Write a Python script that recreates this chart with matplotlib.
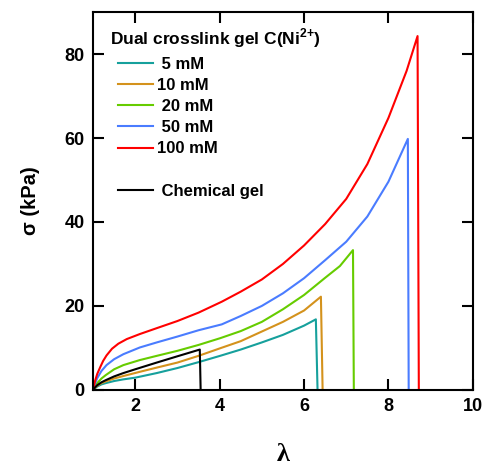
import numpy as np
import matplotlib.pyplot as plt

lam_5 = [1.0, 1.05, 1.1, 1.2, 1.3, 1.5, 1.72, 2.0, 2.51, 3.0, 3.5, 4.01, 4.5, 5.0, 5.5, 6.0, 6.28, 6.32]
sig_5 = [0.0, 0.4, 0.8, 1.3, 1.6, 2.1, 2.5, 2.9, 4.0, 5.2, 6.6, 8.1, 9.6, 11.3, 13.1, 15.3, 16.8, 0.0]

lam_10 = [1.0, 1.05, 1.1, 1.2, 1.3, 1.5, 1.72, 2.11, 2.51, 3.0, 3.5, 4.01, 4.5, 5.0, 5.5, 6.0, 6.40, 6.44]
sig_10 = [0.0, 0.5, 1.0, 1.6, 2.0, 2.7, 3.3, 4.3, 5.3, 6.5, 8.1, 9.9, 11.6, 13.9, 16.2, 18.9, 22.2, 0.0]

lam_20 = [1.0, 1.05, 1.1, 1.2, 1.3, 1.5, 1.72, 2.11, 2.51, 3.0, 3.5, 4.01, 4.5, 5.0, 5.5, 6.0, 6.5, 6.85, 7.16, 7.18]
sig_20 = [0.0, 0.9, 1.6, 2.7, 3.5, 4.9, 5.9, 7.1, 8.1, 9.3, 10.7, 12.3, 14.0, 16.2, 19.2, 22.6, 26.7, 29.5, 33.3, 0.0]

lam_50 = [1.0, 1.05, 1.1, 1.2, 1.32, 1.5, 1.72, 2.11, 2.51, 3.0, 3.5, 4.05, 4.5, 5.0, 5.5, 6.0, 6.5, 7.0, 7.5, 8.0, 8.46, 8.48]
sig_50 = [0.0, 1.6, 2.8, 4.5, 5.9, 7.3, 8.5, 10.1, 11.3, 12.7, 14.2, 15.6, 17.6, 20.0, 23.0, 26.6, 30.9, 35.3, 41.3, 49.6, 59.8, 0.0]

lam_100 = [1.0, 1.05, 1.1, 1.17, 1.24, 1.32, 1.45, 1.6, 1.8, 2.11, 2.51, 3.0, 3.5, 4.05, 4.5, 5.0, 5.5, 6.0, 6.5, 7.0, 7.5, 8.0, 8.43, 8.69, 8.72]
sig_100 = [0.0, 2.2, 3.8, 5.4, 6.9, 8.2, 9.8, 11.0, 12.1, 13.3, 14.7, 16.4, 18.4, 21.0, 23.4, 26.3, 30.0, 34.4, 39.5, 45.5, 53.8, 64.8, 76.0, 84.3, 0.0]

lam_chem = [1.0, 1.05, 1.1, 1.2, 1.3, 1.5, 1.72, 2.0, 2.51, 3.0, 3.53, 3.55]
sig_chem = [0.0, 0.6, 1.1, 1.8, 2.3, 3.2, 4.0, 4.9, 6.5, 8.0, 9.6, 0.0]

labels = [' 5 mM', '10 mM', ' 20 mM', ' 50 mM', '100 mM']
colors = ['#16a09c', '#d4921c', '#66cc00', '#4a7cff', '#ff0000']

#------------------------------------------------------------------- plotting
plt.rcParams['font.family'] = ['Liberation Sans', 'DejaVu Sans']
plt.rcParams['font.weight'] = 'bold'
plt.rcParams['mathtext.fontset'] = 'custom'
plt.rcParams['mathtext.rm'] = 'Liberation Sans:bold'
plt.rcParams['mathtext.bf'] = 'Liberation Sans:bold'

fig = plt.figure(figsize=(4.82, 4.68), dpi=100)
ax = fig.add_axes([0.193, 0.167, 0.788, 0.807])

series = [(lam_5, sig_5), (lam_10, sig_10), (lam_20, sig_20),
          (lam_50, sig_50), (lam_100, sig_100)]
for (x, y), lab, col in zip(series, labels, colors):
    ax.plot(x, y, color=col, lw=1.5, label=lab)
ax.plot([], [], color='none', label=' ')
ax.plot(lam_chem, sig_chem, color='black', lw=1.5, label=' Chemical gel')

ax.set_xlim(1, 10)
ax.set_ylim(0, 90)
ax.set_xticks([2, 4, 6, 8, 10])
ax.set_yticks([0, 20, 40, 60, 80])

ax.tick_params(direction='in', length=8, width=1.5, labelsize=13,
               top=True, right=True, pad=6)
for lab in ax.get_xticklabels() + ax.get_yticklabels():
    lab.set_fontweight('bold')
for s in ax.spines.values():
    s.set_linewidth(1.5)

ax.set_xlabel('λ', fontsize=19, fontweight='bold', family='Liberation Serif',
              labelpad=20)
ax.set_ylabel('σ (kPa)', fontsize=14.5, fontweight='bold', labelpad=18)

#---------------------------------------------------------------------legend
ax.text(0.045, 0.931, r'Dual crosslink gel C(Ni$^{\mathrm{2{+}}}$)',
        transform=ax.transAxes, fontsize=12.5, fontweight='bold',
        ha='left', va='center')
leg = ax.legend(loc='upper left', bbox_to_anchor=(0.066, 0.882), frameon=False,
                fontsize=12, handlelength=2.1, handletextpad=0.25,
                labelspacing=0.37, borderaxespad=0, borderpad=0)

fig.savefig('out.png', dpi=100)
